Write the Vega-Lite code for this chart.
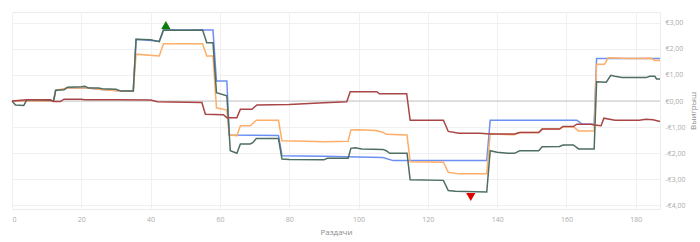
{
  "$schema": "https://vega.github.io/schema/vega-lite/v6.json",
  "width": 648,
  "height": 197,
  "autosize": "none",
  "padding": {"left": 12, "top": 12, "right": 40, "bottom": 33},
  "background": "white",
  "config": {
    "view": {"stroke": "#ececec"},
    "font": "Open Sans",
    "axis": {"gridColor": "#f0f0f0", "domain": false, "ticks": false, "labelColor": "#ababab", "titleColor": "#8c8c8c", "labelFontSize": 7, "titleFontSize": 8, "titleFontWeight": "normal"}
  },
  "datasets": {
    "lines": [
      {"s":"B","h":0,"v":0},{"s":"B","h":12,"v":0},{"s":"B","h":12.6,"v":0.41},{"s":"B","h":15,"v":0.45},{"s":"B","h":16,"v":0.5},{"s":"B","h":22,"v":0.5},{"s":"B","h":25,"v":0.45},{"s":"B","h":31.5,"v":0.38},{"s":"B","h":35,"v":0.38},{"s":"B","h":35.8,"v":2.37},{"s":"B","h":42.5,"v":2.3},{"s":"B","h":43.7,"v":2.73},{"s":"B","h":58,"v":2.73},{"s":"B","h":59,"v":0.77},{"s":"B","h":62,"v":0.77},{"s":"B","h":62.7,"v":-1.31},{"s":"B","h":76.9,"v":-1.33},{"s":"B","h":77.9,"v":-2.1},{"s":"B","h":90,"v":-2.12},{"s":"B","h":100,"v":-2.15},{"s":"B","h":107,"v":-2.17},{"s":"B","h":110,"v":-2.29},{"s":"B","h":137,"v":-2.29},{"s":"B","h":138,"v":-0.74},{"s":"B","h":163,"v":-0.74},{"s":"B","h":164.5,"v":-0.89},{"s":"B","h":168,"v":-0.89},{"s":"B","h":168.7,"v":1.63},{"s":"B","h":187,"v":1.63},
      {"s":"O","h":0,"v":0},{"s":"O","h":12,"v":0},{"s":"O","h":12.6,"v":0.41},{"s":"O","h":16,"v":0.5},{"s":"O","h":22,"v":0.5},{"s":"O","h":25,"v":0.45},{"s":"O","h":31.5,"v":0.38},{"s":"O","h":35,"v":0.38},{"s":"O","h":35.8,"v":1.8},{"s":"O","h":42.5,"v":1.73},{"s":"O","h":43.7,"v":2.2},{"s":"O","h":55,"v":2.2},{"s":"O","h":56.2,"v":1.73},{"s":"O","h":58,"v":1.73},{"s":"O","h":59,"v":-0.26},{"s":"O","h":62,"v":-0.35},{"s":"O","h":62.7,"v":-1.31},{"s":"O","h":64.9,"v":-1.33},{"s":"O","h":65.9,"v":-0.95},{"s":"O","h":68.7,"v":-0.95},{"s":"O","h":70.5,"v":-0.74},{"s":"O","h":76.9,"v":-0.74},{"s":"O","h":77.9,"v":-1.53},{"s":"O","h":85,"v":-1.55},{"s":"O","h":90,"v":-1.57},{"s":"O","h":97,"v":-1.55},{"s":"O","h":97.8,"v":-1.11},{"s":"O","h":100,"v":-1.1},{"s":"O","h":105,"v":-1.13},{"s":"O","h":107,"v":-1.2},{"s":"O","h":108,"v":-1.28},{"s":"O","h":114,"v":-1.31},{"s":"O","h":114.9,"v":-2.33},{"s":"O","h":124.5,"v":-2.35},{"s":"O","h":125.9,"v":-2.74},{"s":"O","h":129,"v":-2.8},{"s":"O","h":137,"v":-2.8},{"s":"O","h":138,"v":-1.25},{"s":"O","h":140,"v":-1.28},{"s":"O","h":145,"v":-1.3},{"s":"O","h":146.5,"v":-1.21},{"s":"O","h":152,"v":-1.21},{"s":"O","h":153,"v":-1.08},{"s":"O","h":158,"v":-1.08},{"s":"O","h":159,"v":-0.99},{"s":"O","h":162,"v":-0.99},{"s":"O","h":163.5,"v":-1.15},{"s":"O","h":168,"v":-1.15},{"s":"O","h":168.7,"v":1.41},{"s":"O","h":171,"v":1.41},{"s":"O","h":172,"v":1.66},{"s":"O","h":178,"v":1.63},{"s":"O","h":184.5,"v":1.64},{"s":"O","h":185.5,"v":1.56},{"s":"O","h":187,"v":1.56},
      {"s":"G","h":0,"v":0},{"s":"G","h":1,"v":-0.15},{"s":"G","h":3.4,"v":-0.17},{"s":"G","h":4.3,"v":0.05},{"s":"G","h":8,"v":0.05},{"s":"G","h":11,"v":0.03},{"s":"G","h":12,"v":0},{"s":"G","h":12.6,"v":0.41},{"s":"G","h":15,"v":0.43},{"s":"G","h":16,"v":0.53},{"s":"G","h":20,"v":0.55},{"s":"G","h":21,"v":0.57},{"s":"G","h":22,"v":0.5},{"s":"G","h":25,"v":0.5},{"s":"G","h":26,"v":0.47},{"s":"G","h":30,"v":0.45},{"s":"G","h":31.5,"v":0.38},{"s":"G","h":35,"v":0.38},{"s":"G","h":35.8,"v":2.37},{"s":"G","h":40,"v":2.35},{"s":"G","h":42.5,"v":2.28},{"s":"G","h":43.7,"v":2.73},{"s":"G","h":50,"v":2.72},{"s":"G","h":55,"v":2.73},{"s":"G","h":56.2,"v":2.24},{"s":"G","h":58,"v":2.24},{"s":"G","h":59,"v":0.32},{"s":"G","h":62,"v":0.2},{"s":"G","h":63,"v":-1.91},{"s":"G","h":64.9,"v":-2.01},{"s":"G","h":65.9,"v":-1.65},{"s":"G","h":68.7,"v":-1.65},{"s":"G","h":69.5,"v":-1.6},{"s":"G","h":70.5,"v":-1.44},{"s":"G","h":76.9,"v":-1.44},{"s":"G","h":77.9,"v":-2.23},{"s":"G","h":80,"v":-2.25},{"s":"G","h":90,"v":-2.26},{"s":"G","h":91,"v":-2.2},{"s":"G","h":97,"v":-2.2},{"s":"G","h":97.8,"v":-1.82},{"s":"G","h":99,"v":-1.8},{"s":"G","h":101,"v":-1.84},{"s":"G","h":107,"v":-1.86},{"s":"G","h":108,"v":-1.91},{"s":"G","h":109,"v":-2.01},{"s":"G","h":114,"v":-2.01},{"s":"G","h":114.9,"v":-3.03},{"s":"G","h":124.5,"v":-3.05},{"s":"G","h":125.9,"v":-3.44},{"s":"G","h":128,"v":-3.47},{"s":"G","h":137,"v":-3.5},{"s":"G","h":138,"v":-1.91},{"s":"G","h":140,"v":-1.97},{"s":"G","h":143,"v":-2.01},{"s":"G","h":145,"v":-2.01},{"s":"G","h":146.5,"v":-1.91},{"s":"G","h":152,"v":-1.91},{"s":"G","h":153,"v":-1.76},{"s":"G","h":158,"v":-1.75},{"s":"G","h":159,"v":-1.69},{"s":"G","h":162,"v":-1.69},{"s":"G","h":163.5,"v":-1.84},{"s":"G","h":168,"v":-1.84},{"s":"G","h":168.7,"v":0.74},{"s":"G","h":171.5,"v":0.72},{"s":"G","h":172.8,"v":0.99},{"s":"G","h":174,"v":0.95},{"s":"G","h":176,"v":0.9},{"s":"G","h":183,"v":0.9},{"s":"G","h":184,"v":0.95},{"s":"G","h":185.5,"v":0.95},{"s":"G","h":186,"v":0.85},{"s":"G","h":187,"v":0.85},
      {"s":"R","h":0,"v":0},{"s":"R","h":4.3,"v":0.05},{"s":"R","h":11,"v":0.05},{"s":"R","h":12,"v":-0.02},{"s":"R","h":14,"v":-0.02},{"s":"R","h":15,"v":0.07},{"s":"R","h":20,"v":0.07},{"s":"R","h":21,"v":0.05},{"s":"R","h":30,"v":0.05},{"s":"R","h":40,"v":0.04},{"s":"R","h":42,"v":-0.03},{"s":"R","h":54.8,"v":-0.06},{"s":"R","h":55.8,"v":-0.51},{"s":"R","h":61,"v":-0.53},{"s":"R","h":62,"v":-0.64},{"s":"R","h":64.9,"v":-0.64},{"s":"R","h":65.9,"v":-0.32},{"s":"R","h":69.2,"v":-0.32},{"s":"R","h":70.7,"v":-0.15},{"s":"R","h":80,"v":-0.13},{"s":"R","h":90,"v":-0.07},{"s":"R","h":96.6,"v":-0.03},{"s":"R","h":97.6,"v":0.36},{"s":"R","h":105.3,"v":0.36},{"s":"R","h":106,"v":0.28},{"s":"R","h":113.9,"v":0.28},{"s":"R","h":114.9,"v":-0.74},{"s":"R","h":124.5,"v":-0.74},{"s":"R","h":125.9,"v":-1.17},{"s":"R","h":129,"v":-1.24},{"s":"R","h":135,"v":-1.24},{"s":"R","h":138,"v":-1.27},{"s":"R","h":145,"v":-1.27},{"s":"R","h":146.5,"v":-1.21},{"s":"R","h":152,"v":-1.21},{"s":"R","h":153,"v":-1.08},{"s":"R","h":158,"v":-1.08},{"s":"R","h":159,"v":-0.98},{"s":"R","h":162,"v":-0.98},{"s":"R","h":163,"v":-0.89},{"s":"R","h":167,"v":-0.89},{"s":"R","h":168,"v":-0.92},{"s":"R","h":170,"v":-0.95},{"s":"R","h":170.8,"v":-0.66},{"s":"R","h":174,"v":-0.74},{"s":"R","h":181,"v":-0.74},{"s":"R","h":183,"v":-0.7},{"s":"R","h":185,"v":-0.72},{"s":"R","h":187,"v":-0.79}
    ],
    "marks": [
      {"kind":"max","h":44.4,"v":2.73},
      {"kind":"min","h":132.4,"v":-3.5}
    ]
  },
  "encoding": {
    "y": {"field": "v", "type": "quantitative", "scale": {"domain": [-4.15, 3.42], "nice": false, "zero": false},
      "axis": {"orient": "right", "title": "Выигрыш", "titleAngle": 270, "titleBaseline": "top", "values": [-4,-3,-2,-1,0,1,2,3], "labelPadding": 5, "titlePadding": 4,
        "labelExpr": "(datum.value < 0 ? '-' : '') + '€' + replace(format(abs(datum.value), '.2f'), '.', ',')"}}
  },
  "layer": [
    {
      "data": {"values": [{"v": 0}]},
      "mark": {"type": "rule", "color": "#c4c4c4", "strokeWidth": 1},
      "encoding": {}
    },
    {
      "data": {"name": "lines"},
      "mark": {"type": "line", "strokeWidth": 1.5, "interpolate": "linear"},
      "encoding": {
        "x": {"field": "h", "type": "quantitative", "scale": {"domain": [0, 187], "nice": false, "zero": false},
          "axis": {"title": "Раздачи", "values": [0,20,40,60,80,100,120,140,160,180], "labelPadding": 6, "titlePadding": 6, "grid": true}},
        "color": {"field": "s", "type": "nominal", "sort": ["B","O","G","R"], "scale": {"domain": ["B","O","G","R"], "range": ["#6b8ff2","#ffae69","#4e6e62","#a84545"]}, "legend": null}
      }
    },
    {
      "data": {"name": "marks"},
      "transform": [{"filter": "datum.kind == 'max'"}],
      "mark": {"type": "point", "shape": "triangle-up", "filled": true, "size": 85, "color": "#0a7d0a", "opacity": 1, "yOffset": -5},
      "encoding": {
        "x": {"field": "h", "type": "quantitative"}
      }
    },
    {
      "data": {"name": "marks"},
      "transform": [{"filter": "datum.kind == 'min'"}],
      "mark": {"type": "point", "shape": "triangle-down", "filled": true, "size": 85, "color": "#e00000", "opacity": 1, "yOffset": 5},
      "encoding": {
        "x": {"field": "h", "type": "quantitative"}
      }
    }
  ]
}
